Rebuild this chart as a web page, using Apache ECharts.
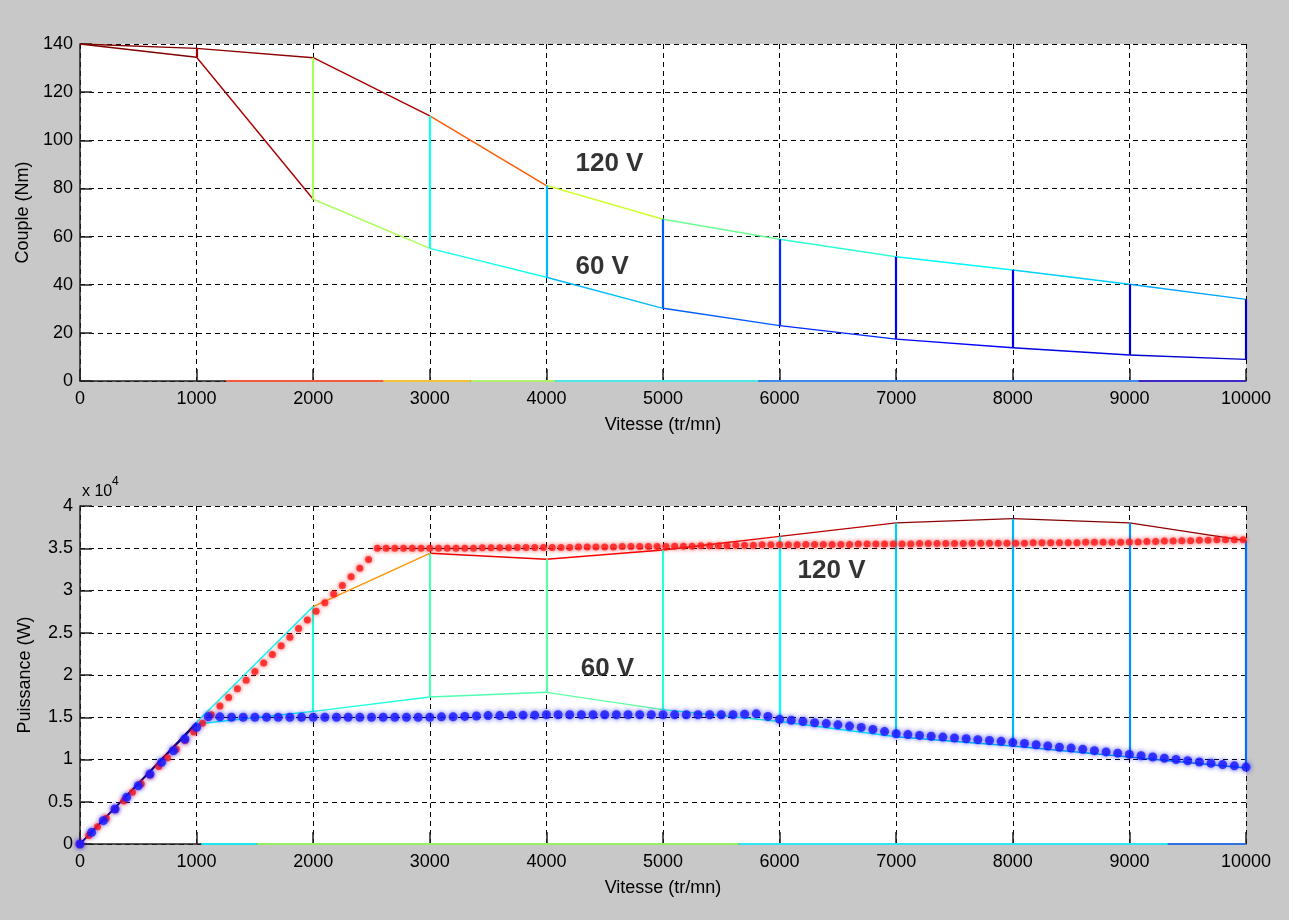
<!DOCTYPE html>
<html>
<head>
<meta charset="utf-8">
<script src="https://cdn.jsdelivr.net/npm/echarts@6/dist/echarts.min.js"></script>
<style>
html,body{margin:0;padding:0;background:#c8c8c8;}
#chart{width:1289px;height:920px;}
</style>
</head>
<body>
<div id="chart"></div>
<script>
// ---------------- data ----------------
const speeds = [0, 1000, 2000, 3000, 4000, 5000, 6000, 7000, 8000, 9000, 10000];
const torque120V = [140, 138.2, 134.3, 110.1, 81.2, 67.2, 58.9, 51.6, 46.1, 40.2, 33.9];
const torque60V  = [140, 134.5, 75.5, 55.1, 43.1, 30.2, 23.0, 17.4, 13.8, 10.8, 9.0];
const power120V  = [0, 14400, 28100, 34400, 33700, 34800, 36400, 38000, 38500, 38000, 35900];
const power60V   = [0, 14200, 15700, 17400, 17950, 15900, 14500, 12700, 11600, 10300, 9000];

// coloured pieces lying on the zero line (start/end speeds)
const torqueBaseBreaks = [1250, 2600, 3350, 4075, 5820, 9080, 10000];
const powerBaseBreaks  = [1040, 1520, 5650, 9330, 10000];

// measured operating points (speed, power in W)
const dots120V = [
[0,0],[75,1020],[150,2040],[225,3060],[300,4080],[375,5100],[450,6120],[525,7140],[600,8160],[675,9180],
[750,10200],[825,11220],[900,12240],[975,13260],[1050,14280],[1125,15300],[1200,16320],[1275,17340],[1350,18360],[1425,19380],
[1500,20400],[1575,21420],[1650,22440],[1725,23460],[1800,24480],[1875,25500],[1950,26520],[2025,27540],[2100,28560],[2175,29580],
[2250,30600],[2325,31620],[2400,32640],[2475,33660],
[2550,35000],[2625,35000],[2700,35000],[2775,35000],[2850,35000],[2925,35000],[3000,35000],[3075,35000],[3150,35000],[3225,35000],
[3300,35000],[3375,35000],[3450,35050],[3525,35050],[3600,35050],[3675,35050],[3750,35100],[3825,35100],[3900,35100],[3975,35100],
[4050,35100],[4125,35100],[4200,35100],[4275,35150],[4350,35150],[4425,35150],[4500,35150],[4575,35150],[4650,35200],[4725,35200],
[4800,35200],[4875,35200],[4950,35200],[5025,35200],[5100,35250],[5175,35250],[5250,35250],[5325,35300],[5400,35300],[5475,35300],
[5550,35300],[5625,35350],[5700,35350],[5775,35350],[5850,35400],[5925,35400],[6000,35400],[6075,35400],[6150,35400],[6225,35450],
[6300,35450],[6375,35450],[6450,35450],[6525,35450],[6600,35450],[6675,35500],[6750,35500],[6825,35500],[6900,35500],[6975,35500],
[7050,35500],[7125,35500],[7200,35550],[7275,35550],[7350,35550],[7425,35550],[7500,35550],[7575,35550],[7650,35600],[7725,35600],
[7800,35600],[7875,35600],[7950,35600],[8025,35600],[8100,35600],[8175,35650],[8250,35650],[8325,35650],[8400,35650],[8475,35650],
[8550,35650],[8625,35700],[8700,35700],[8775,35700],[8850,35700],[8925,35700],[9000,35750],[9075,35750],[9150,35800],[9225,35800],
[9300,35850],[9375,35850],[9450,35900],[9525,35900],[9600,35950],[9675,35950],[9750,36000],[9825,36000],[9900,36000],[9975,36000]
];
const dots60V = [
[0,0],[100,1380],[200,2760],[300,4140],[400,5520],[500,6900],[600,8280],[700,9660],[800,11040],[900,12420],
[1000,13800],[1100,15050],[1200,15050],[1300,15000],[1400,15000],[1500,15000],[1600,15000],[1700,15000],[1800,15000],[1900,15000],
[2000,15000],[2100,15000],[2200,15000],[2300,15000],[2400,15000],[2500,15000],[2600,15000],[2700,15000],[2800,15000],[2900,15000],
[3000,15000],[3100,15050],[3200,15050],[3300,15100],[3400,15150],[3500,15200],[3600,15200],[3700,15250],[3800,15250],[3900,15250],
[4000,15300],[4100,15300],[4200,15300],[4300,15300],[4400,15300],[4500,15300],[4600,15300],[4700,15300],[4800,15300],[4900,15300],
[5000,15300],[5100,15300],[5200,15300],[5300,15300],[5400,15300],[5500,15300],[5600,15300],[5700,15350],[5800,15400],[5900,15100],
[6000,14750],[6100,14650],[6200,14500],[6300,14350],[6400,14250],[6500,14100],[6600,13950],[6700,13800],[6800,13550],[6900,13300],
[7000,13050],[7100,12950],[7200,12850],[7300,12750],[7400,12650],[7500,12550],[7600,12450],[7700,12350],[7800,12250],[7900,12150],
[8000,12000],[8100,11900],[8200,11750],[8300,11600],[8400,11450],[8500,11350],[8600,11200],[8700,11050],[8800,10900],[8900,10750],
[9000,10600],[9100,10450],[9200,10300],[9300,10150],[9400,10000],[9500,9850],[9600,9700],[9700,9550],[9800,9400],[9900,9250],
[10000,9100]
];

const labelTexts = ['120 V', '60 V'];
const torqueLabelPos = [[4245, 90.4], [4245, 47.6]];
const powerLabelPos  = [[6150, 32300], [4290, 20700]];

const xTicks = { min: 0, max: 10000, step: 1000 };
const torqueTicks = { min: 0, max: 140, step: 20 };
const powerTicks = { min: 0, max: 40000, step: 5000, scale: 10000 };

// ---------------- styles ----------------
const FONT = 'Liberation Sans, Arial, sans-serif';
const torqueBaseColors = ['#f55a3c', '#f5c03c', '#b4f06e', '#50e6e6', '#3c8cf0', '#3c28c8'];
const powerBaseColors  = ['#20e6f0', '#96f064', '#30e4f0', '#3070e0'];

function jet(t) {
  t = Math.max(0, Math.min(1, t));
  const c = v => Math.round(255 * Math.max(0, Math.min(1, v)));
  return 'rgb(' + c(1.5 - Math.abs(4 * t - 3)) + ',' + c(1.5 - Math.abs(4 * t - 2)) + ',' + c(1.5 - Math.abs(4 * t - 1)) + ')';
}

// mesh edges: horizontal edges coloured by their left vertex, verticals by their lower vertex
function meshSegments(xs, upper, lower, vmax) {
  const segs = [];
  [upper, lower].forEach(row => {
    for (let i = 0; i < xs.length - 1; i++) {
      segs.push({ coords: [[xs[i], row[i]], [xs[i + 1], row[i + 1]]], lineStyle: { color: jet(row[i] / vmax) } });
    }
  });
  for (let i = 1; i < xs.length; i++) {
    const lo = Math.min(upper[i], lower[i]);
    segs.push({ coords: [[xs[i], lower[i]], [xs[i], upper[i]]], lineStyle: { color: jet(lo / vmax), width: 2.2 } });
  }
  return segs;
}
function baseSegments(breaks, colors) {
  const segs = [];
  for (let i = 0; i < breaks.length - 1; i++) {
    segs.push({ coords: [[breaks[i], 0], [breaks[i + 1], 0]], lineStyle: { color: colors[i] } });
  }
  return segs;
}

function xAxis(gridIndex) {
  return {
    type: 'value', gridIndex: gridIndex, min: xTicks.min, max: xTicks.max, interval: xTicks.step,
    name: 'Vitesse (tr/mn)', nameLocation: 'middle', nameGap: 35,
    nameTextStyle: { color: '#000', fontSize: 18, fontFamily: FONT },
    axisLine: { show: true, onZero: false, lineStyle: { color: '#222', width: 1.5 } },
    axisTick: { show: true, inside: true, length: 12, lineStyle: { color: '#222', width: 1.5 } },
    axisLabel: { color: '#000', fontSize: 18, fontFamily: FONT, margin: 9, formatter: v => String(v) },
    splitLine: { show: true, lineStyle: { color: '#000', type: [5, 4], width: 1 } }
  };
}
function yAxis(gridIndex, ticks, name, fmt) {
  return {
    type: 'value', gridIndex: gridIndex, min: ticks.min, max: ticks.max, interval: ticks.step,
    name: name, nameLocation: 'middle', nameGap: 46,
    nameTextStyle: { color: '#000', fontSize: 18, fontFamily: FONT },
    axisLine: { show: true, onZero: false, lineStyle: { color: '#222', width: 1.5 } },
    axisTick: { show: true, inside: true, length: 12, lineStyle: { color: '#222', width: 1.5 } },
    axisLabel: { color: '#000', fontSize: 18, fontFamily: FONT, margin: 7, formatter: fmt },
    splitLine: { show: true, lineStyle: { color: '#000', type: [5, 4], width: 1 } }
  };
}
function labelSeries(xi, yi, pos) {
  return {
    type: 'scatter', xAxisIndex: xi, yAxisIndex: yi, symbolSize: 1, silent: true,
    itemStyle: { color: 'rgba(0,0,0,0)' },
    data: pos.map((p, i) => ({ value: p, name: labelTexts[i] })),
    label: { show: true, position: 'right', distance: 0, formatter: '{b}', color: '#000',
             fontSize: 26, fontWeight: 'bold', fontFamily: FONT },
    z: 10
  };
}

const chart = echarts.init(document.getElementById('chart'), null, { renderer: 'canvas' });
chart.setOption({
  animation: false,
  backgroundColor: '#c8c8c8',
  grid: [
    { left: 80, top: 44, width: 1166, height: 337, show: true, backgroundColor: '#fff', borderWidth: 0 },
    { left: 80, top: 506, width: 1166, height: 338, show: true, backgroundColor: '#fff', borderWidth: 0 }
  ],
  xAxis: [xAxis(0), xAxis(1)],
  yAxis: [
    yAxis(0, torqueTicks, 'Couple (Nm)', v => String(v)),
    yAxis(1, powerTicks, 'Puissance (W)', v => String(v / powerTicks.scale))
  ],
  graphic: [
    { type: 'text', left: 82, top: 484, style: { text: 'x 10', fill: '#000', fontSize: 16, fontFamily: FONT } },
    { type: 'text', left: 112, top: 476, style: { text: '4', fill: '#000', fontSize: 12, fontFamily: FONT } }
  ],
  series: [
    { type: 'lines', coordinateSystem: 'cartesian2d', xAxisIndex: 0, yAxisIndex: 0, silent: true,
      lineStyle: { width: 1.4, opacity: 1 }, data: meshSegments(speeds, torque120V, torque60V, torqueTicks.max), z: 3 },
    { type: 'lines', coordinateSystem: 'cartesian2d', xAxisIndex: 0, yAxisIndex: 0, silent: true,
      lineStyle: { width: 2.2, opacity: 1 }, data: baseSegments(torqueBaseBreaks, torqueBaseColors), z: 4 },
    labelSeries(0, 0, torqueLabelPos),

    { type: 'lines', coordinateSystem: 'cartesian2d', xAxisIndex: 1, yAxisIndex: 1, silent: true,
      lineStyle: { width: 1.4, opacity: 1 }, data: meshSegments(speeds, power120V, power60V, Math.max.apply(null, power120V)), z: 3 },
    { type: 'lines', coordinateSystem: 'cartesian2d', xAxisIndex: 1, yAxisIndex: 1, silent: true,
      lineStyle: { width: 2.2, opacity: 1 }, data: baseSegments(powerBaseBreaks, powerBaseColors), z: 4 },
    { type: 'scatter', xAxisIndex: 1, yAxisIndex: 1, clip: false, silent: true, symbol: 'circle', symbolSize: 7,
      itemStyle: { color: '#ff1c1c', shadowBlur: 4, shadowColor: 'rgba(255,0,0,0.9)' }, data: dots120V, z: 5 },
    { type: 'scatter', xAxisIndex: 1, yAxisIndex: 1, clip: false, silent: true, symbol: 'circle', symbolSize: 9,
      itemStyle: { color: '#1a1aff', shadowBlur: 5, shadowColor: 'rgba(0,0,255,0.9)' }, data: dots60V, z: 6 },
    labelSeries(1, 1, powerLabelPos)
  ]
});
</script>
</body>
</html>
